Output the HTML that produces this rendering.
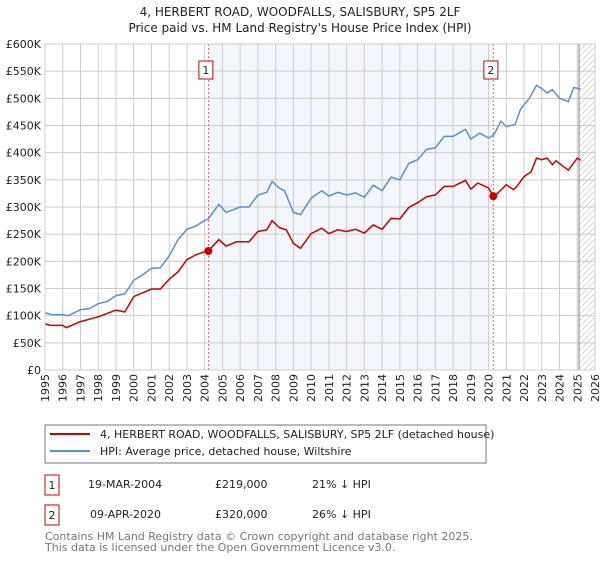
<!DOCTYPE html>
<html><head><meta charset="utf-8"><style>
body{margin:0;background:#fff;font-family:"DejaVu Sans","Liberation Sans",sans-serif;}
svg text{font-family:"DejaVu Sans","Liberation Sans",sans-serif;}
</style></head><body>
<svg id="c" width="600" height="560" xmlns="http://www.w3.org/2000/svg">
<text x="300" y="16" text-anchor="middle" font-size="12" fill="#222">4, HERBERT ROAD, WOODFALLS, SALISBURY, SP5 2LF</text>
<text x="300" y="32" text-anchor="middle" font-size="12" fill="#222">Price paid vs. HM Land Registry's House Price Index (HPI)</text>
<g id="plot"></g>
<rect x="45" y="425" width="441" height="38" fill="#fff" stroke="#777"/>
<line x1="50" y1="434" x2="90" y2="434" stroke="#cc0000" stroke-width="2"/>
<text x="100" y="438" font-size="11" fill="#222">4, HERBERT ROAD, WOODFALLS, SALISBURY, SP5 2LF (detached house)</text>
<line x1="50" y1="451" x2="90" y2="451" stroke="#5b8fd6" stroke-width="2"/>
<text x="100" y="455" font-size="11" fill="#222">HPI: Average price, detached house, Wiltshire</text>
<rect x="45" y="475" width="14" height="20" fill="#fff" stroke="#cc0000"/>
<text x="52" y="489" text-anchor="middle" font-size="11" fill="#222">1</text>
<text x="88" y="488" font-size="11" fill="#222">19-MAR-2004</text>
<text x="215" y="488" font-size="11" fill="#222">£219,000</text>
<text x="312" y="488" font-size="11" fill="#222">21% ↓ HPI</text>
<rect x="45" y="505" width="14" height="20" fill="#fff" stroke="#cc0000"/>
<text x="52" y="519" text-anchor="middle" font-size="11" fill="#222">2</text>
<text x="90" y="518" font-size="11" fill="#222">09-APR-2020</text>
<text x="215" y="518" font-size="11" fill="#222">£320,000</text>
<text x="312" y="518" font-size="11" fill="#222">26% ↓ HPI</text>
<text x="45" y="540" font-size="11" fill="#777">Contains HM Land Registry data © Crown copyright and database right 2025.</text>
<text x="45" y="551" font-size="11" fill="#777">This data is licensed under the Open Government Licence v3.0.</text>
</svg>
<script>
const yTicks=[0,50,100,150,200,250,300,350,400,450,500,550,600];
const yTickLabels=["£0","£50K","£100K","£150K","£200K","£250K","£300K","£350K","£400K","£450K","£500K","£550K","£600K"];
const xYears=[1995,1996,1997,1998,1999,2000,2001,2002,2003,2004,2005,2006,2007,2008,2009,2010,2011,2012,2013,2014,2015,2016,2017,2018,2019,2020,2021,2022,2023,2024,2025,2026];
const hpiT=[1995,1995.4,1996,1996.3,1997,1997.5,1998,1998.5,1999,1999.5,2000,2000.5,2001,2001.5,2002,2002.5,2003,2003.5,2004,2004.2,2004.8,2005.2,2006,2006.5,2007,2007.5,2007.8,2008.2,2008.5,2009,2009.4,2010,2010.6,2011,2011.5,2012,2012.5,2013,2013.5,2014,2014.5,2015,2015.5,2016,2016.5,2017,2017.5,2018,2018.7,2019,2019.5,2020,2020.3,2020.7,2021,2021.5,2021.8,2022.3,2022.7,2023,2023.3,2023.6,2024,2024.5,2024.8,2025.2];
const hpiV=[105,102,102,100,111,113,122,126,137,140,165,175,187,188,210,240,259,265,275,278,305,290,300,300,322,327,347,335,330,290,286,316,330,320,327,322,326,318,340,330,355,350,380,387,406,409,430,430,443,425,436,427,433,458,448,452,480,500,524,518,510,516,500,494,520,517];
const ppT=[1995,1995.3,1996,1996.2,1997,1998,1999,1999.5,2000,2001,2001.5,2002,2002.5,2003,2003.5,2004,2004.2,2004.8,2005.2,2005.8,2006.5,2007,2007.5,2007.8,2008.2,2008.6,2009,2009.4,2010,2010.6,2011,2011.5,2012,2012.5,2013,2013.5,2014,2014.5,2015,2015.5,2016,2016.5,2017,2017.5,2018,2018.7,2019,2019.4,2020,2020.27,2020.5,2021,2021.4,2021.6,2022,2022.4,2022.7,2023,2023.3,2023.6,2023.8,2024.2,2024.5,2025,2025.2];
const ppV=[85,82,82,78,89,98,110,107,135,149,149,167,181,203,212,218,219,240,228,236,236,255,258,275,262,258,233,224,251,261,251,258,255,259,252,267,259,279,278,299,308,319,322,338,338,349,333,344,335,320,325,341,332,338,356,365,390,387,390,378,385,375,368,390,386];
const saleT=[2004.21,2020.27];
const saleV=[219,320];
const X0=45,X1=595,Y0=370,Y1=44;
const sx=t=>X0+(t-1995)/31*(X1-X0);
const sy=v=>Y0-v/600*(Y0-Y1);
const NS="http://www.w3.org/2000/svg";
const g=document.getElementById('plot');
function mk(tag,attrs){const e=document.createElementNS(NS,tag);for(const k in attrs)e.setAttribute(k,attrs[k]);g.appendChild(e);return e;}
let e;
e=mk('rect',{x:sx(saleT[0]),y:Y1,width:sx(saleT[1])-sx(saleT[0]),height:Y0-Y1,fill:'#eef3fc',opacity:0.7});


const defs=document.createElementNS(NS,'defs');defs.innerHTML='<pattern id="h" width="6" height="6" patternUnits="userSpaceOnUse"><path d="M0,6 L6,0" stroke="#ccc" stroke-width="0.8"/></pattern>';g.appendChild(defs);
e=mk('rect',{x:sx(2025.1),y:Y1,width:X1-sx(2025.1),height:Y0-Y1,fill:'url(#h)'});


yTicks.forEach((v,i)=>{
 e=mk('line',{x1:X0,x2:X1,y1:sy(v),y2:sy(v),stroke:'#ccc','stroke-width':1});
 
 
 e=mk('text',{x:X0-4,y:sy(v)+4,'text-anchor':'end','font-size':11,fill:'#222'});e.textContent=yTickLabels[i];
 
 
});
xYears.forEach(y=>{
 e=mk('line',{x1:sx(y),x2:sx(y),y1:Y1,y2:Y0,stroke:'#ccc','stroke-width':1});
 
 
 e=mk('text',{x:0,y:0,'font-size':11,fill:'#222',transform:`translate(${sx(y)+4},${Y0+4}) rotate(-90)`,'text-anchor':'end'});e.textContent=y;
 
 
});
e=mk('line',{x1:sx(2025.1),x2:sx(2025.1),y1:Y1,y2:Y0,stroke:'#888','stroke-width':1});


saleT.forEach((t,i)=>{
 e=mk('line',{x1:sx(t),x2:sx(t),y1:Y1,y2:Y0,stroke:'#f06060','stroke-width':1,'stroke-dasharray':'2,2'});
 
 
});
function line(T,V,col,name){const d=T.map((t,i)=>(i?'L':'M')+sx(t).toFixed(1)+','+sy(V[i]).toFixed(1)).join('');e=mk('path',{d,fill:'none',stroke:col,'stroke-width':1.5});
 
 }
line(hpiT,hpiV,'#5b8fd6','hpi-line');
line(ppT,ppV,'#cc0000','property-line');
saleT.forEach((t,i)=>{
 e=mk('circle',{cx:sx(t),cy:sy(saleV[i]),r:4,fill:'#cc0000'});
 
 
 const bx=sx(t)-9;
 e=mk('rect',{x:bx-0.5,y:61,width:14,height:18,fill:'#fff',stroke:'#cc0000'});
 
 
 e=mk('text',{x:bx+6.5,y:74,'text-anchor':'middle','font-size':11,fill:'#222'});e.textContent=String(i+1);
 
 
});
e=mk('rect',{x:X0,y:Y1,width:X1-X0,height:Y0-Y1,fill:'none',stroke:'#ccc'});


</script>
</body></html>
